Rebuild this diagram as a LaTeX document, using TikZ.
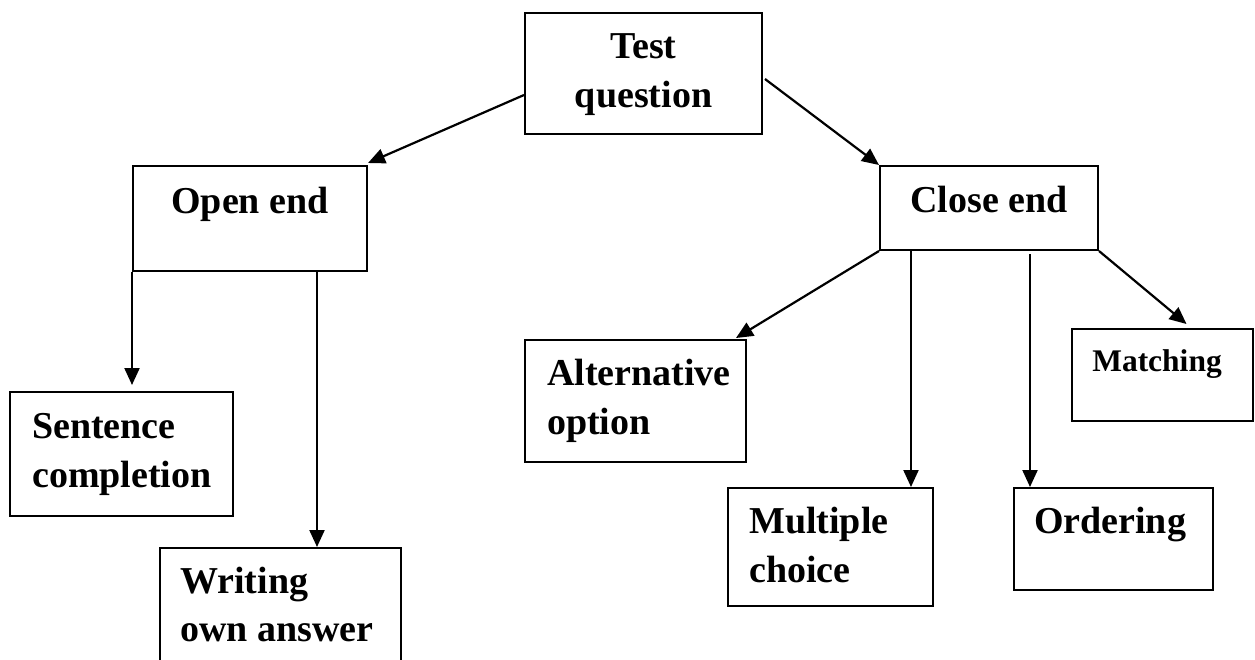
\documentclass[tikz,border=0pt]{standalone}
\usepackage{fontspec}
\setmainfont{Liberation Serif}
\usetikzlibrary{arrows.meta}
\tikzset{
  box/.style={draw=black, line width=2pt, inner sep=0pt, fill=none},
  lbl/.style={inner sep=0pt, font=\bfseries\fontsize{38}{45}\selectfont},
  slbl/.style={inner sep=0pt, font=\bfseries\fontsize{31.5}{38}\selectfont},
  conn/.style={line width=2.2pt, -{Triangle[length=17pt,width=15pt]}},
}
\begin{document}
\begin{tikzpicture}[x=1pt,y=-1pt]
\useasboundingbox (0,0) rectangle (1255,659);
% boxes
\node[box, minimum width=237pt, minimum height=121pt] (tq) at (643.5,73.5) {};
\node[box, minimum width=234pt, minimum height=105pt] (oe) at (250,218.5) {};
\node[box, minimum width=218pt, minimum height=84pt] (ce) at (989,208) {};
\node[box, minimum width=223pt, minimum height=124pt] (sc) at (121.5,454) {};
\node[box, minimum width=241pt, minimum height=140pt] (wa) at (280,618) {};
\node[box, minimum width=221pt, minimum height=122pt] (ao) at (635.5,401) {};
\node[box, minimum width=205pt, minimum height=118pt] (mc) at (830.5,547) {};
\node[box, minimum width=181pt, minimum height=92pt] (ma) at (1162.5,375) {};
\node[box, minimum width=199pt, minimum height=102pt] (or) at (1113.5,539) {};
% texts
\node[lbl, anchor=base] (tq1) at (643.5,58) {Test};
\node[lbl, anchor=base] (tq2) at (643.5,107) {question};
\node[lbl, anchor=base] (oet) at (250,213) {Open end};
\node[lbl, anchor=base] (cet) at (989,212) {Close end};
\node[lbl, anchor=base west] (sc1) at (32,438) {Sentence};
\node[lbl, anchor=base west] (sc2) at (32,487) {completion};
\node[lbl, anchor=base west] (wa1) at (180,593) {Writing};
\node[lbl, anchor=base west] (wa2) at (180,641) {own answer};
\node[lbl, anchor=base west] (ao1) at (547,385) {Alternative};
\node[lbl, anchor=base west] (ao2) at (547,434) {option};
\node[lbl, anchor=base west] (mc1) at (749,533) {Multiple};
\node[lbl, anchor=base west] (mc2) at (749,582) {choice};
\node[slbl, anchor=base] (mat) at (1157,371) {Matching};
\node[lbl, anchor=base] (ort) at (1110,533) {Ordering};
% connectors
\draw[conn] ([yshift=-21.5pt]tq.west) -- ([yshift=2pt]oe.north east);
\draw[conn] ([xshift=2pt,yshift=-5.5pt]tq.east) -- (ce.north west);
\draw[conn] (oe.south west) -- ([yshift=6pt]oe.south west |- sc.north);
\draw[conn] ([xshift=67pt]oe.south) -- ([xshift=67pt]oe.south |- wa.north);
\draw[conn] (ce.south west) -- ([xshift=-11pt,yshift=1pt]ao.north east);
\draw[conn] ([xshift=-78pt]ce.south) -- ([xshift=-78pt]ce.south |- mc.north);
\draw[conn] ([xshift=41pt,yshift=-3pt]ce.south) -- ([xshift=41pt]ce.south |- or.north);
\draw[conn] (ce.south east) -- ([xshift=24pt,yshift=4pt]ma.north);
\end{tikzpicture}
\end{document}
